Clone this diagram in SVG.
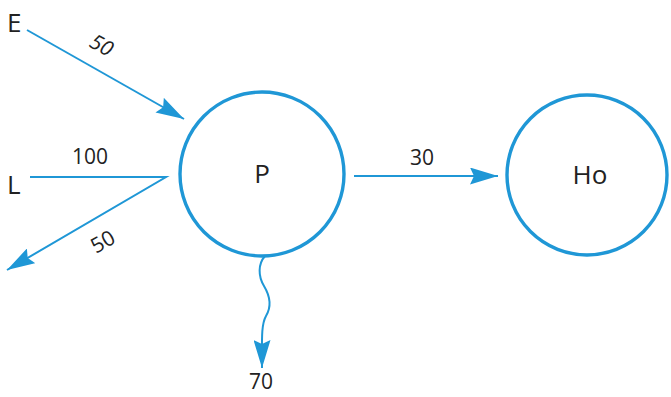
<svg xmlns="http://www.w3.org/2000/svg" width="671" height="397" viewBox="0 0 671 397">
  <style>
    .node { fill: none; stroke: #1f97d6; stroke-width: 3.4; }
    .flow { fill: none; stroke: #1f97d6; stroke-width: 2; }
    .lbl { font-family: "Open Sans", "Liberation Sans", sans-serif; fill: #222; }
    .num { font-size: 21px; }
    .name { font-size: 26px; }
  </style>
  <defs>
    <marker id="head" viewBox="0 0 28 17" refX="28" refY="8.5" markerWidth="28" markerHeight="17" markerUnits="userSpaceOnUse" orient="auto">
      <path d="M0,0 L28,8.5 L0,17 L4,8.5 Z" fill="#1f97d6"/>
    </marker>
  </defs>
  <rect width="671" height="397" fill="#fff"/>

  <g id="connectors">
    <!-- E input -->
    <line class="flow" x1="27" y1="30" x2="184" y2="119" marker-end="url(#head)"/>
    <!-- L input and outgoing branch -->
    <polyline class="flow" points="30,177 166,177 7,270" marker-end="url(#head)"/>
    <!-- P to Ho -->
    <line class="flow" x1="354" y1="176" x2="498" y2="176" marker-end="url(#head)"/>
    <!-- wavy loss -->
    <path class="flow" d="M265,256 C258,264 258,276 264,286 C270,296 272,306 266,316 C261,325 262,340 262,368" marker-end="url(#head)"/>
  </g>

  <g id="labels">
    <text class="lbl name" x="7" y="32">E</text>
    <text class="lbl name" x="7" y="194">L</text>
    <text class="lbl num" font-style="italic" transform="translate(88,46) rotate(29)">50</text>
    <text class="lbl num" x="72" y="164">100</text>
    <text class="lbl num" transform="translate(96,254) rotate(-30)">50</text>
    <text class="lbl num" x="410" y="165">30</text>
    <text class="lbl num" x="249" y="389">70</text>
  </g>

  <g id="node-P">
    <circle class="node" cx="262" cy="174" r="82"/>
    <text class="lbl name" x="262" y="183" text-anchor="middle">P</text>
  </g>

  <g id="node-Ho">
    <circle class="node" cx="587" cy="175" r="80"/>
    <text class="lbl name" x="590" y="184" text-anchor="middle">Ho</text>
  </g>
</svg>
